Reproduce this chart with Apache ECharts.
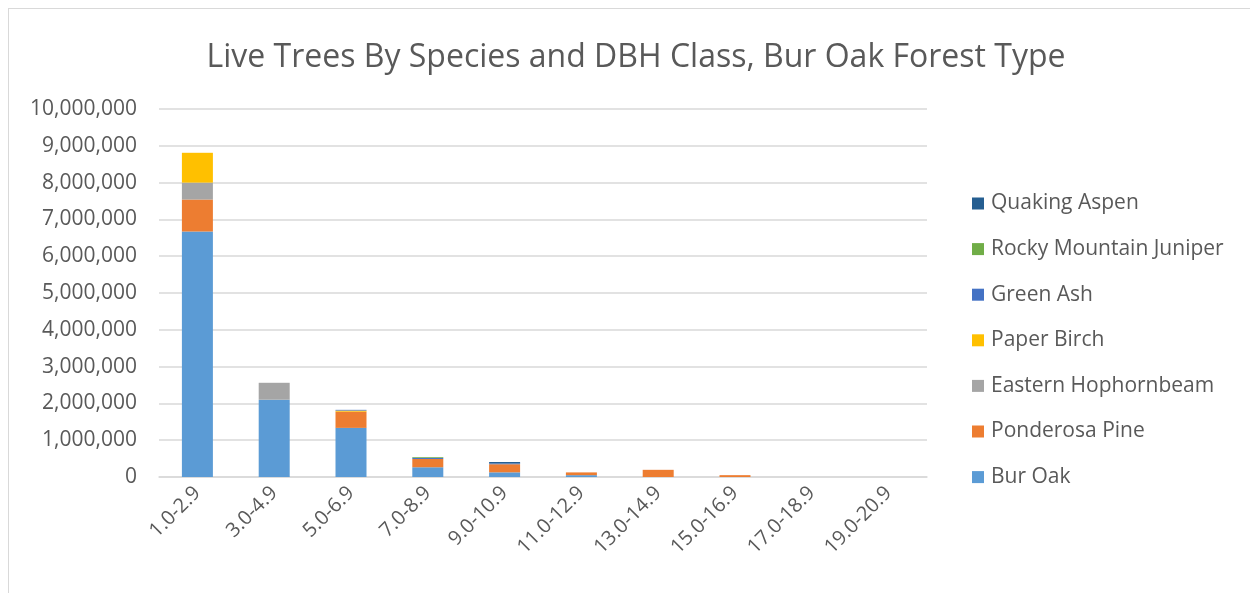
<!DOCTYPE html>
<html>
<head>
<meta charset="utf-8">
<script src="https://cdn.jsdelivr.net/npm/echarts@6/dist/echarts.min.js"></script>
<style>
html,body{margin:0;padding:0;background:#fff;}
#frame{position:absolute;left:8px;top:8px;width:1300px;height:700px;border:1px solid #d9d9d9;box-sizing:border-box;}
#chart{position:absolute;left:0;top:0;width:1250px;height:593px;}
</style>
</head>
<body>
<div id="frame"></div>
<div id="chart"></div>
<script>
const categories = ['1.0-2.9','3.0-4.9','5.0-6.9','7.0-8.9','9.0-10.9','11.0-12.9','13.0-14.9','15.0-16.9','17.0-18.9','19.0-20.9'];
const burOak        = [6670000, 2100000, 1335000, 265000, 127000, 50000, 0, 0, 0, 0];
const ponderosaPine = [870000, 0, 440000, 225000, 220000, 75000, 195000, 50000, 0, 0];
const easternHophornbeam = [460000, 460000, 0, 0, 0, 0, 0, 0, 0, 0];
const paperBirch    = [810000, 0, 30000, 0, 0, 0, 0, 0, 0, 0];
const greenAsh      = [0, 0, 20000, 30000, 20000, 0, 0, 0, 0, 0];
const rockyMountainJuniper = [0, 0, 0, 20000, 0, 0, 0, 0, 0, 0];
const quakingAspen  = [0, 0, 0, 0, 40000, 0, 0, 0, 0, 0];
const yTicks = [0, 1000000, 2000000, 3000000, 4000000, 5000000, 6000000, 7000000, 8000000, 9000000, 10000000];

const seriesDefs = [
  ['Bur Oak', burOak, '#5B9BD5'],
  ['Ponderosa Pine', ponderosaPine, '#ED7D31'],
  ['Eastern Hophornbeam', easternHophornbeam, '#A5A5A5'],
  ['Paper Birch', paperBirch, '#FFC000'],
  ['Green Ash', greenAsh, '#4472C4'],
  ['Rocky Mountain Juniper', rockyMountainJuniper, '#70AD47'],
  ['Quaking Aspen', quakingAspen, '#255E91']
];
const FONT = 'Open Sans';
const chart = echarts.init(document.getElementById('chart'));
chart.setOption({
  animation: false,
  title: {
    text: 'Live Trees By Species and DBH Class, Bur Oak Forest Type',
    left: 631, top: 37, textAlign: 'center',
    textStyle: {fontFamily: FONT, fontSize: 32, fontWeight: 'normal', color: '#595959'}
  },
  legend: {
    orient: 'vertical', left: 967, top: 188, itemGap: 24.6,
    itemWidth: 12, itemHeight: 12, icon: 'rect',
    data: seriesDefs.map(s => s[0]).reverse(),
    textStyle: {fontFamily: FONT, fontSize: 21, color: '#595959', padding: [0,0,0,2]}
  },
  grid: {left: 159, right: 323, top: 109, bottom: 116, containLabel: false},
  xAxis: {
    type: 'category', data: categories,
    axisLine: {lineStyle: {color: '#d9d9d9', width: 1.5}},
    axisTick: {show: false},
    axisLabel: {rotate: 45, interval: 0, margin: 13, fontFamily: FONT, fontSize: 20, color: '#595959'}
  },
  yAxis: {
    type: 'value', min: 0, max: 10000000, interval: 1000000,
    axisLine: {show: false}, axisTick: {show: false},
    splitLine: {lineStyle: {color: '#d9d9d9', width: 1.5}},
    axisLabel: {margin: 22, fontFamily: FONT, fontSize: 21, color: '#595959',
      formatter: v => v.toLocaleString('en-US')}
  },
  series: seriesDefs.map(s => ({
    name: s[0], type: 'bar', stack: 'total', data: s[1],
    barWidth: 31, itemStyle: {color: s[2]}
  }))
});
</script>
</body>
</html>
